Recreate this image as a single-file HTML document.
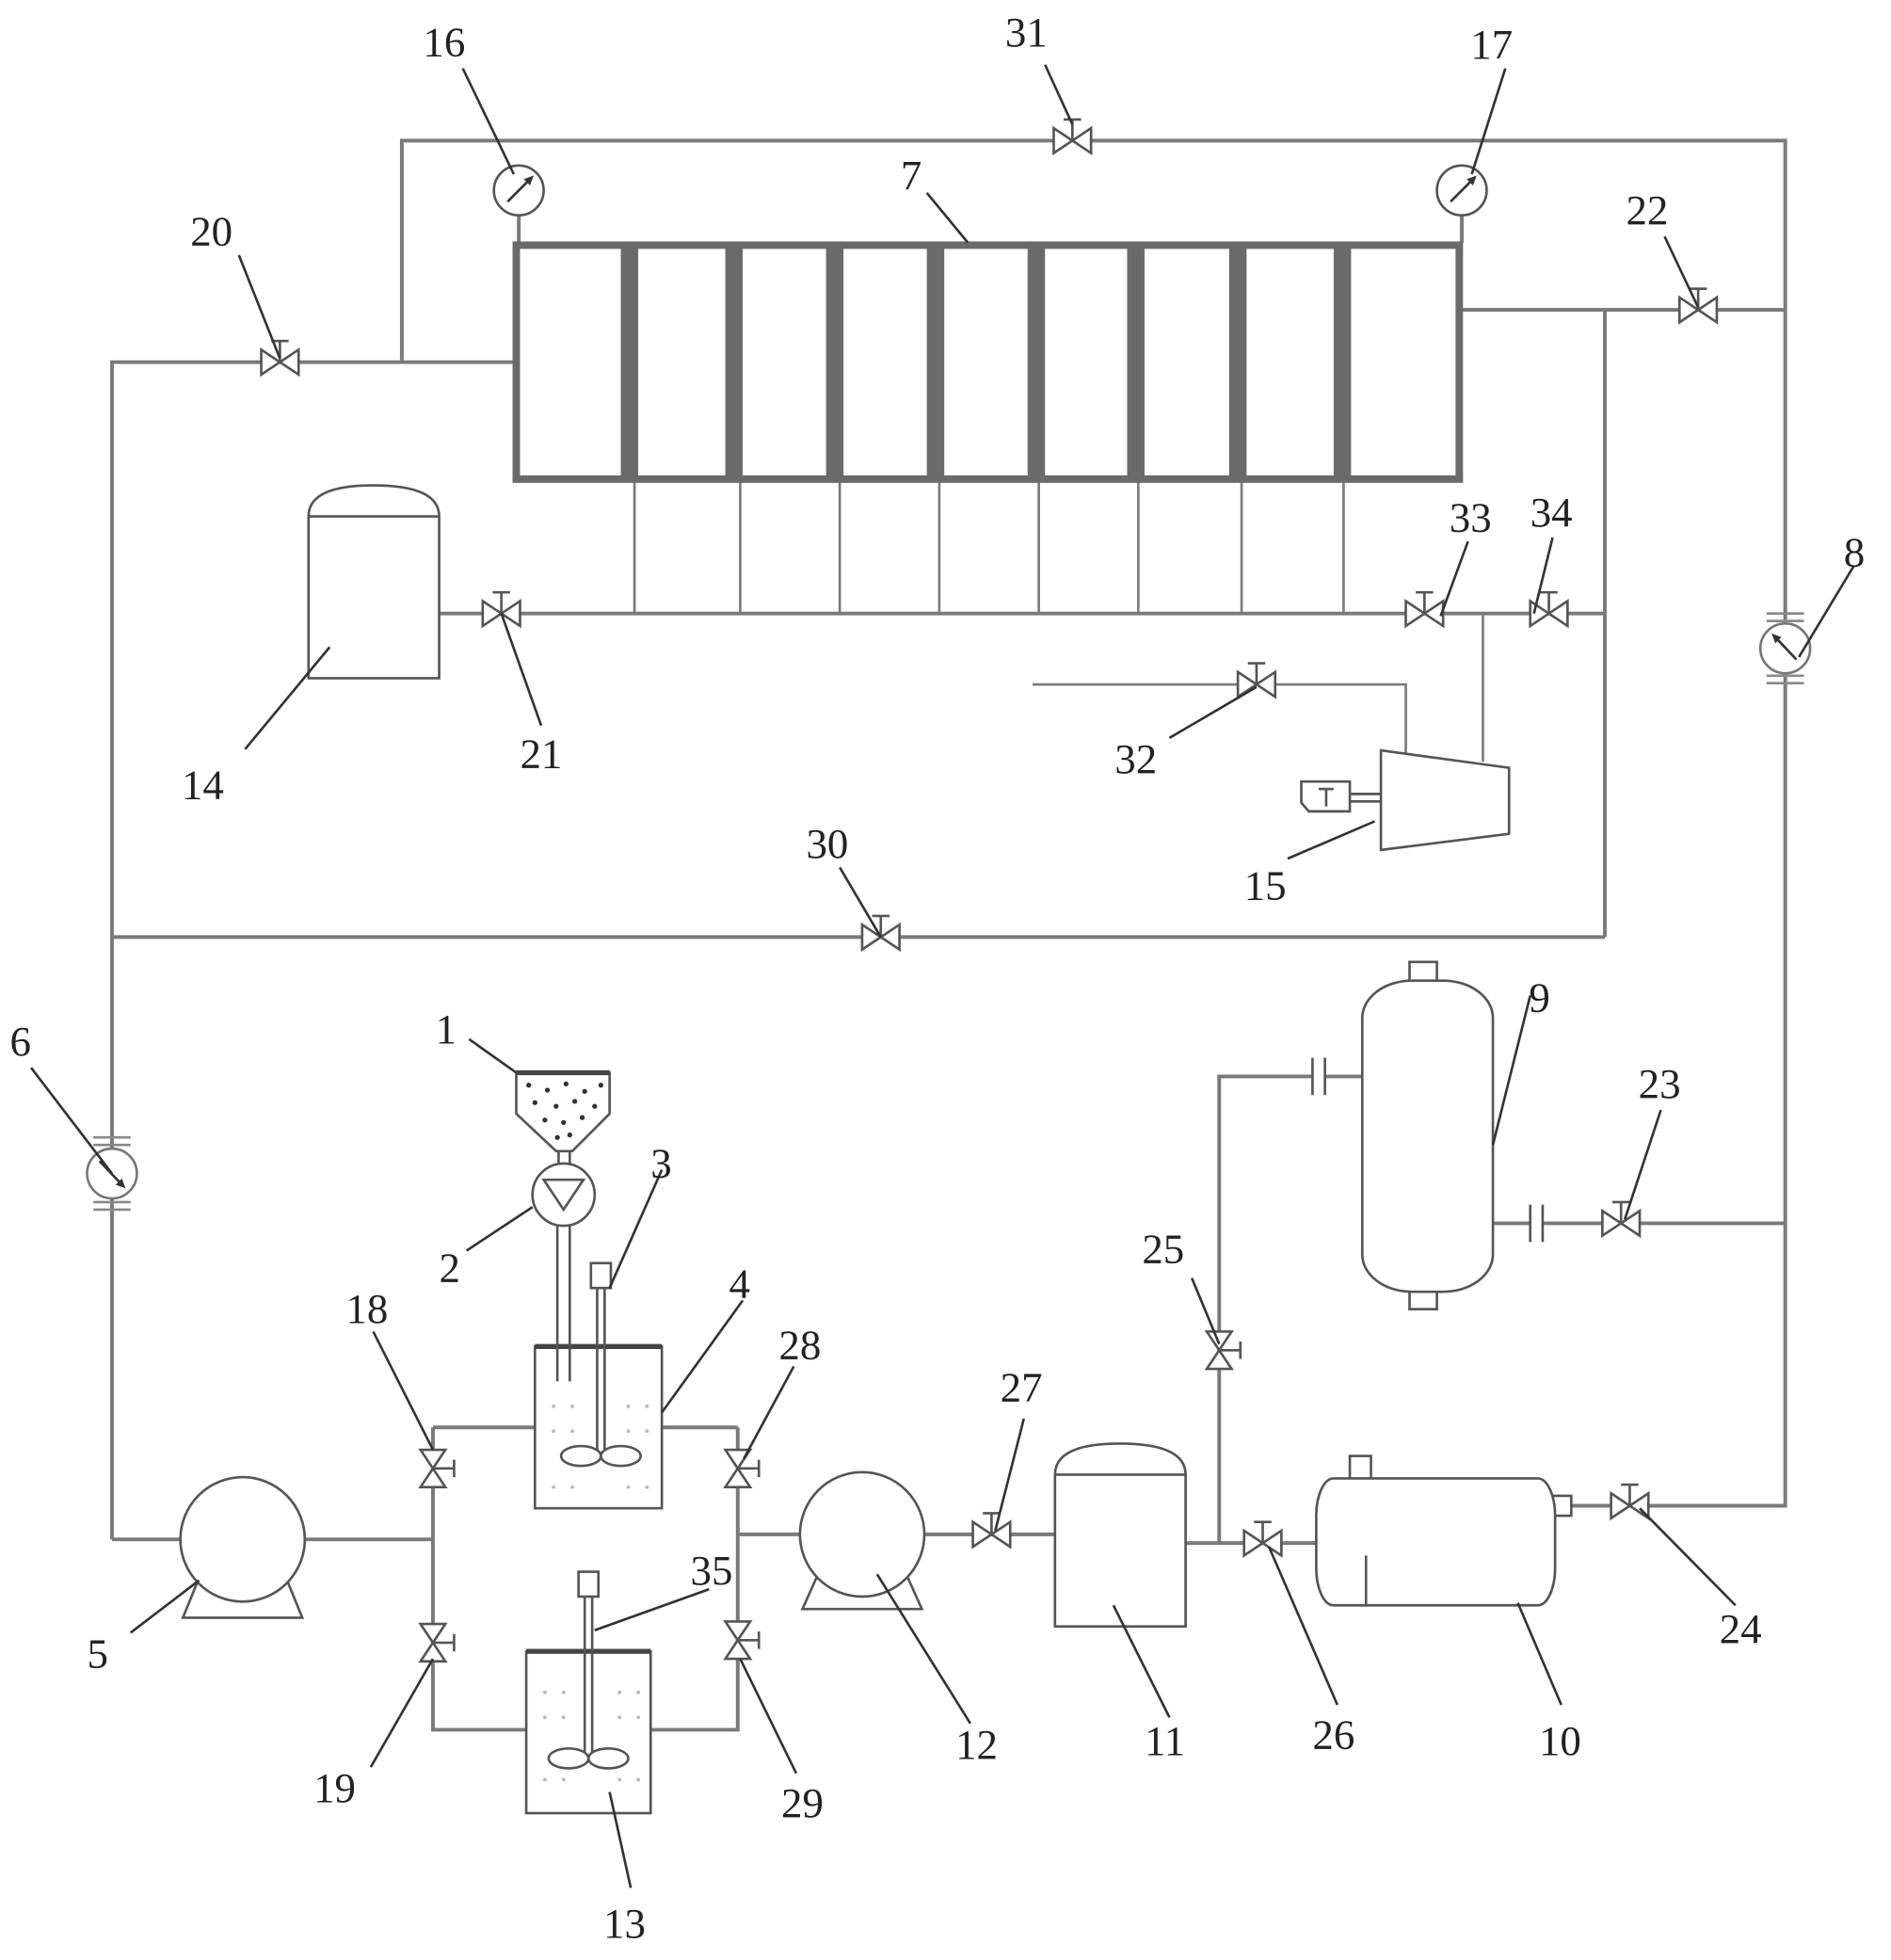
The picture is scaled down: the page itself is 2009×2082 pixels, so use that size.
<!DOCTYPE html>
<html><head><meta charset="utf-8"><style>
html,body{margin:0;padding:0;background:#fff}
svg{display:block}
text{font-family:"Liberation Serif",serif;font-size:34px;fill:#222}
</style></head><body>
<svg width="2009" height="2082" viewBox="0 0 1520 1575" preserveAspectRatio="none" xmlns="http://www.w3.org/2000/svg">
<defs>
<g id="vh"><polygon points="-15,-10 0,0 -15,10" fill="#fff" stroke="#555" stroke-width="2"/><polygon points="15,-10 0,0 15,10" fill="#fff" stroke="#555" stroke-width="2"/><line x1="0" y1="0" x2="0" y2="-17" stroke="#555" stroke-width="2"/><line x1="-7" y1="-17" x2="7" y2="-17" stroke="#555" stroke-width="2"/></g>
<g id="vv"><polygon points="-10,-15 0,0 10,-15" fill="#fff" stroke="#555" stroke-width="2"/><polygon points="-10,15 0,0 10,15" fill="#fff" stroke="#555" stroke-width="2"/><line x1="0" y1="0" x2="17" y2="0" stroke="#555" stroke-width="2"/><line x1="17" y1="-7" x2="17" y2="7" stroke="#555" stroke-width="2"/></g>
<g id="gauge"><circle r="20" fill="#fff" stroke="#555" stroke-width="2"/><line x1="-9" y1="9" x2="10" y2="-10" stroke="#333" stroke-width="2"/><polygon points="12,-12 4,-9 9,-4" fill="#333"/></g>
</defs>
<g fill="none" stroke="#7a7a7a" stroke-width="3">
<!-- top loop -->
<polyline points="323,291 323,113 1435,113 1435,1210 1262,1210"/>
<line x1="417" y1="173" x2="417" y2="195"/><line x1="1175" y1="173" x2="1175" y2="195"/>
<polyline points="90,1237 90,291 413,291"/>
<line x1="1175" y1="249" x2="1435" y2="249"/>
<line x1="1290" y1="249" x2="1290" y2="753"/>
<line x1="90" y1="753" x2="1290" y2="753"/>
<line x1="353" y1="493" x2="1290" y2="493"/>
<g stroke-width="2">
<line x1="510" y1="387" x2="510" y2="493"/><line x1="595" y1="387" x2="595" y2="493"/><line x1="675" y1="387" x2="675" y2="493"/><line x1="755" y1="387" x2="755" y2="493"/><line x1="835" y1="387" x2="835" y2="493"/><line x1="915" y1="387" x2="915" y2="493"/><line x1="998" y1="387" x2="998" y2="493"/><line x1="1080" y1="387" x2="1080" y2="493"/>
<line x1="1192" y1="493" x2="1192" y2="612"/>
<polyline points="830,550 1130,550 1130,605"/>
</g>
<!-- bottom -->
<line x1="90" y1="1237" x2="145" y2="1237"/><line x1="245" y1="1237" x2="348" y2="1237"/>
<polyline points="348,1147 348,1390 423,1390"/>
<line x1="348" y1="1147" x2="430" y2="1147"/>
<line x1="532" y1="1147" x2="593" y2="1147"/>
<polyline points="523,1390 593,1390 593,1147"/>
<line x1="593" y1="1233" x2="643" y2="1233"/>
<line x1="743" y1="1233" x2="848" y2="1233"/>
<line x1="953" y1="1240" x2="1060" y2="1240"/>
<polyline points="980,1240 980,865 1055,865"/>
<line x1="1065" y1="865" x2="1095" y2="865"/>
<line x1="1200" y1="983" x2="1230" y2="983"/>
<line x1="1240" y1="983" x2="1435" y2="983"/>
</g>
<!-- flanges -->
<g stroke="#555" stroke-width="2">
<line x1="1055" y1="850" x2="1055" y2="880"/><line x1="1065" y1="850" x2="1065" y2="880"/>
<line x1="1230" y1="968" x2="1230" y2="998"/><line x1="1240" y1="968" x2="1240" y2="998"/>
</g>
<!-- box 7 -->
<rect x="415" y="197" width="758" height="188" fill="#fff" stroke="#6a6a6a" stroke-width="6"/>
<g fill="#6a6a6a">
<rect x="499" y="197" width="14" height="188"/><rect x="583" y="197" width="14" height="188"/><rect x="664" y="197" width="14" height="188"/><rect x="745" y="197" width="14" height="188"/><rect x="826" y="197" width="14" height="188"/><rect x="906" y="197" width="14" height="188"/><rect x="988" y="197" width="14" height="188"/><rect x="1072" y="197" width="14" height="188"/>
</g>
<use href="#gauge" x="417" y="153"/><use href="#gauge" x="1175" y="153"/>
<!-- gauges 8 & 6 with flanges -->
<g stroke="#888" stroke-width="2">
<line x1="1420" y1="493" x2="1450" y2="493"/><line x1="1420" y1="499" x2="1450" y2="499"/><line x1="1420" y1="543" x2="1450" y2="543"/><line x1="1420" y1="549" x2="1450" y2="549"/>
<line x1="75" y1="914" x2="105" y2="914"/><line x1="75" y1="920" x2="105" y2="920"/><line x1="75" y1="966" x2="105" y2="966"/><line x1="75" y1="972" x2="105" y2="972"/>
</g>
<g transform="translate(1435,521)"><circle r="20" fill="#fff" stroke="#777" stroke-width="2"/><line x1="9" y1="9" x2="-8" y2="-9" stroke="#333" stroke-width="2"/><polygon points="-11,-12 -3,-9 -8,-4" fill="#333"/></g>
<g transform="translate(90,943)"><circle r="20" fill="#fff" stroke="#777" stroke-width="2"/><line x1="-10" y1="-10" x2="8" y2="9" stroke="#333" stroke-width="2"/><polygon points="11,12 3,9 8,4" fill="#333"/></g>
<!-- tank 14 -->
<path d="M248,545 L248,415 Q248,390 300,390 Q353,390 353,415 L353,545 Z" fill="#fff" stroke="#555" stroke-width="2"/>
<line x1="248" y1="415" x2="353" y2="415" stroke="#555" stroke-width="2"/>
<!-- compressor 15 -->
<polygon points="1110,603 1213,617 1213,670 1110,683" fill="#fff" stroke="#555" stroke-width="2"/>
<line x1="1085" y1="638" x2="1110" y2="638" stroke="#555" stroke-width="2"/><line x1="1085" y1="644" x2="1110" y2="644" stroke="#555" stroke-width="2"/>
<polygon points="1046,628 1085,628 1085,652 1052,652 1046,645" fill="#fff" stroke="#555" stroke-width="2"/>
<line x1="1060" y1="634" x2="1072" y2="634" stroke="#555" stroke-width="2"/><line x1="1066" y1="634" x2="1066" y2="648" stroke="#555" stroke-width="2"/>
<!-- valves horizontal -->
<use href="#vh" x="862" y="113"/><use href="#vh" x="225" y="291"/><use href="#vh" x="1365" y="249"/>
<use href="#vh" x="403" y="493"/><use href="#vh" x="1145" y="493"/><use href="#vh" x="1245" y="493"/>
<use href="#vh" x="1010" y="550"/><use href="#vh" x="708" y="753"/>
<use href="#vh" x="797" y="1233"/><use href="#vh" x="1015" y="1240"/><use href="#vh" x="1303" y="983"/><use href="#vh" x="1310" y="1210"/>
<use href="#vv" x="348" y="1180"/><use href="#vv" x="348" y="1320"/><use href="#vv" x="593" y="1180"/><use href="#vv" x="593" y="1318"/><use href="#vv" x="980" y="1085"/>
<!-- pumps -->
<g fill="#fff" stroke="#555" stroke-width="2">
<polygon points="160,1268 230,1268 243,1300 147,1300"/>
<circle cx="195" cy="1237" r="50"/>
<polygon points="658,1264 728,1264 741,1293 645,1293"/>
<circle cx="693" cy="1233" r="50"/>
<!-- tank 11 -->
<path d="M848,1307 L848,1185 Q848,1160 900,1160 Q953,1160 953,1185 L953,1307 Z"/>
<line x1="848" y1="1185" x2="953" y2="1185"/>
<!-- vessel 9 -->
<rect x="1133" y="773" width="22" height="17"/><rect x="1133" y="1035" width="22" height="17"/>
<rect x="1095" y="788" width="105" height="250" rx="40" ry="30"/>
<!-- tank 10 -->
<rect x="1085" y="1170" width="17" height="20"/><rect x="1248" y="1202" width="15" height="16"/>
<rect x="1058" y="1188" width="192" height="102" rx="14" ry="30"/>
<line x1="1098" y1="1250" x2="1098" y2="1290"/>
<!-- tanks 4 & 13 -->
<rect x="430" y="1082" width="102" height="130"/>
<rect x="423" y="1327" width="100" height="130"/>
</g>
<line x1="430" y1="1082" x2="532" y2="1082" stroke="#444" stroke-width="4"/>
<line x1="423" y1="1327" x2="523" y2="1327" stroke="#444" stroke-width="4"/>
<g fill="#bbb">
<circle cx="445" cy="1130" r="1.5"/><circle cx="460" cy="1130" r="1.5"/><circle cx="505" cy="1130" r="1.5"/><circle cx="520" cy="1130" r="1.5"/>
<circle cx="445" cy="1150" r="1.5"/><circle cx="460" cy="1150" r="1.5"/><circle cx="505" cy="1150" r="1.5"/><circle cx="520" cy="1150" r="1.5"/>
<circle cx="445" cy="1195" r="1.5"/><circle cx="460" cy="1195" r="1.5"/><circle cx="505" cy="1195" r="1.5"/><circle cx="520" cy="1195" r="1.5"/>
<circle cx="438" cy="1360" r="1.5"/><circle cx="453" cy="1360" r="1.5"/><circle cx="498" cy="1360" r="1.5"/><circle cx="513" cy="1360" r="1.5"/>
<circle cx="438" cy="1380" r="1.5"/><circle cx="453" cy="1380" r="1.5"/><circle cx="498" cy="1380" r="1.5"/><circle cx="513" cy="1380" r="1.5"/>
<circle cx="438" cy="1430" r="1.5"/><circle cx="453" cy="1430" r="1.5"/><circle cx="498" cy="1430" r="1.5"/><circle cx="513" cy="1430" r="1.5"/>
</g>
<!-- stirrers -->
<g fill="#fff" stroke="#555" stroke-width="2">
<rect x="475" y="1015" width="16" height="20"/>
<line x1="480" y1="1035" x2="480" y2="1172"/><line x1="486" y1="1035" x2="486" y2="1172"/>
<ellipse cx="467" cy="1170" rx="16" ry="8"/><ellipse cx="499" cy="1170" rx="16" ry="8"/>
<rect x="465" y="1263" width="16" height="20"/>
<line x1="470" y1="1283" x2="470" y2="1415"/><line x1="476" y1="1283" x2="476" y2="1415"/>
<ellipse cx="457" cy="1413" rx="16" ry="8"/><ellipse cx="489" cy="1413" rx="16" ry="8"/>
<!-- hopper & feeder -->
<polygon points="415,862 490,862 490,895 460,925 447,925 415,895"/>
<line x1="449" y1="925" x2="449" y2="937"/><line x1="458" y1="925" x2="458" y2="937"/>
<circle cx="453" cy="960" r="25"/>
<polygon points="437,948 469,948 453,972"/>
<line x1="448" y1="985" x2="448" y2="1110"/><line x1="458" y1="985" x2="458" y2="1110"/>
</g>
<line x1="415" y1="862" x2="490" y2="862" stroke="#444" stroke-width="4"/>
<g fill="#333">
<circle cx="425" cy="872" r="2"/><circle cx="440" cy="876" r="2"/><circle cx="455" cy="871" r="2"/><circle cx="470" cy="877" r="2"/><circle cx="483" cy="872" r="2"/>
<circle cx="430" cy="886" r="2"/><circle cx="447" cy="889" r="2"/><circle cx="462" cy="885" r="2"/><circle cx="478" cy="889" r="2"/>
<circle cx="438" cy="900" r="2"/><circle cx="453" cy="902" r="2"/><circle cx="468" cy="898" r="2"/><circle cx="448" cy="914" r="2"/><circle cx="458" cy="912" r="2"/>
</g>
<!-- leaders -->
<g stroke="#333" stroke-width="2">
<line x1="372" y1="55" x2="413" y2="140"/><line x1="840" y1="52" x2="862" y2="100"/><line x1="1210" y1="55" x2="1183" y2="140"/>
<line x1="745" y1="155" x2="778" y2="195"/><line x1="192" y1="205" x2="225" y2="288"/><line x1="1338" y1="190" x2="1365" y2="247"/>
<line x1="1490" y1="455" x2="1446" y2="528"/><line x1="1180" y1="435" x2="1158" y2="495"/><line x1="1248" y1="432" x2="1233" y2="493"/>
<line x1="197" y1="602" x2="265" y2="520"/><line x1="435" y1="583" x2="403" y2="493"/><line x1="940" y1="593" x2="1010" y2="552"/>
<line x1="1035" y1="690" x2="1105" y2="660"/><line x1="675" y1="697" x2="708" y2="753"/>
<line x1="25" y1="858" x2="90" y2="943"/><line x1="377" y1="835" x2="415" y2="862"/><line x1="375" y1="1005" x2="428" y2="970"/>
<line x1="532" y1="940" x2="490" y2="1035"/><line x1="597" y1="1045" x2="532" y2="1135"/><line x1="300" y1="1070" x2="348" y2="1165"/>
<line x1="638" y1="1098" x2="598" y2="1172"/><line x1="1230" y1="800" x2="1200" y2="920"/><line x1="1335" y1="892" x2="1306" y2="980"/>
<line x1="958" y1="1027" x2="980" y2="1080"/><line x1="823" y1="1140" x2="800" y2="1230"/><line x1="105" y1=" 1312" x2="160" y2="1270"/>
<line x1="570" y1="1277" x2="478" y2="1310"/><line x1="298" y1="1420" x2="348" y2="1333"/><line x1="640" y1="1425" x2="595" y2="1333"/>
<line x1="780" y1="1385" x2="705" y2="1265"/><line x1="940" y1="1380" x2="895" y2="1290"/><line x1="1075" y1="1370" x2="1020" y2="1243"/>
<line x1="1255" y1="1370" x2="1220" y2="1288"/><line x1="1395" y1="1290" x2="1318" y2="1212"/><line x1="507" y1="1517" x2="490" y2="1440"/>
</g>
<!-- labels -->
<text x="340" y="45">16</text><text x="808" y="37">31</text><text x="1182" y="47">17</text>
<text x="724" y="152">7</text><text x="153" y="197">20</text><text x="1307" y="180">22</text>
<text x="1482" y="455">8</text><text x="1165" y="427">33</text><text x="1230" y="423">34</text>
<text x="146" y="642">14</text><text x="418" y="617">21</text><text x="896" y="621">32</text>
<text x="1000" y="723">15</text><text x="648" y="689">30</text>
<text x="8" y="848">6</text><text x="350" y="838">1</text><text x="353" y="1030">2</text><text x="523" y="946">3</text>
<text x="586" y="1043">4</text><text x="278" y="1063">18</text><text x="626" y="1092">28</text>
<text x="1229" y="813">9</text><text x="1317" y="882">23</text><text x="918" y="1015">25</text><text x="804" y="1126">27</text>
<text x="70" y="1340">5</text><text x="555" y="1273">35</text><text x="252" y="1448">19</text><text x="628" y="1460">29</text>
<text x="768" y="1413">12</text><text x="920" y="1410">11</text><text x="1055" y="1405">26</text><text x="1237" y="1410">10</text>
<text x="1382" y="1320">24</text><text x="485" y="1557">13</text>
</g>
</svg>
</body></html>
